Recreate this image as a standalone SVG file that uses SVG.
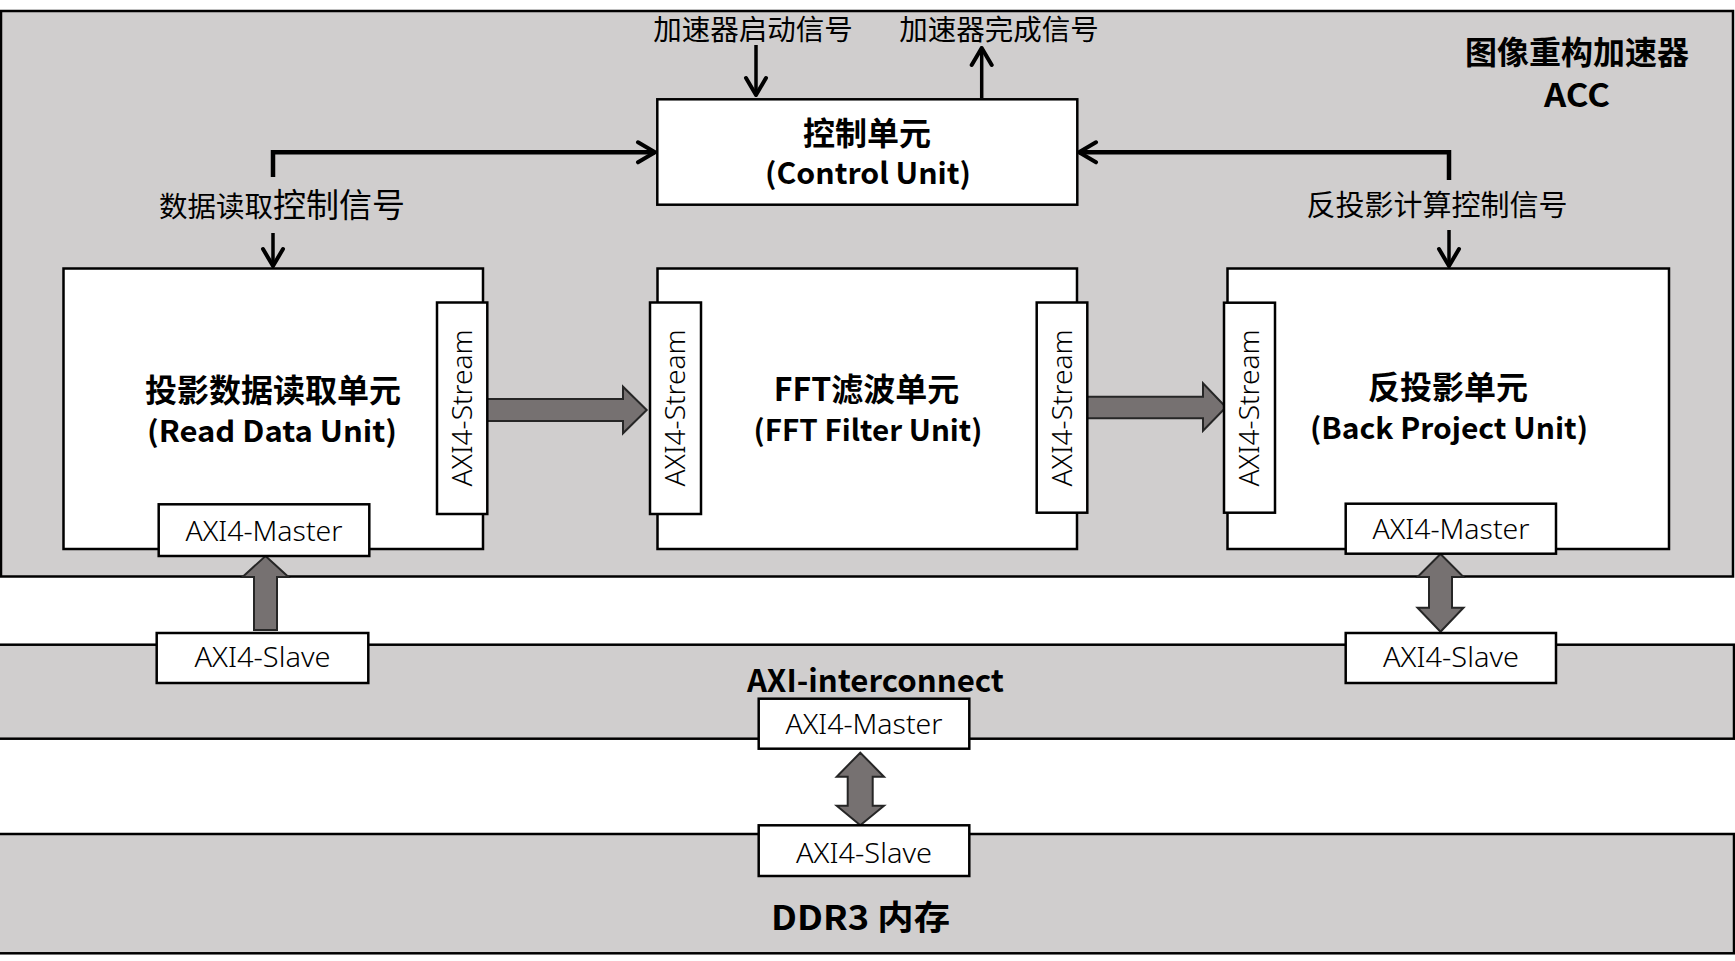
<svg xmlns="http://www.w3.org/2000/svg" width="1735" height="961" viewBox="0 0 1735 961">
<defs>
<style>
.band{fill:#D0CECE;stroke:#000;stroke-width:2.5}
.box{fill:#fff;stroke:#000;stroke-width:2.5}
.port{fill:#fff;stroke:#000;stroke-width:2.5}
.blk{fill:#767171;stroke:#262626;stroke-width:2;stroke-linejoin:miter}
.sig{fill:none;stroke:#000;stroke-linejoin:miter}
.t{font-family:"Noto Sans","Noto Sans CJK SC",sans-serif;fill:#000;text-anchor:middle}
.b{font-weight:bold}
.lt{font-weight:300}
.cjk{font-family:"Noto Sans CJK SC","Noto Sans",sans-serif}
</style>
<marker id="ah" markerUnits="userSpaceOnUse" viewBox="0 0 22 26" refX="20" refY="13" markerWidth="22" markerHeight="26" orient="auto">
<path d="M3,3 L20,13 L3,23" fill="none" stroke="#000" stroke-width="4" stroke-linecap="round" stroke-linejoin="round"/>
</marker>
</defs>
<rect width="1735" height="961" fill="#fff"/>

<g id="acc">
<rect class="band" x="1" y="11" width="1732" height="565.5"/>
<text class="t b cjk" x="1577" y="64" font-size="32">图像重构加速器</text>
<text class="t b cjk" x="1577" y="107" font-size="32" textLength="66" lengthAdjust="spacingAndGlyphs">ACC</text>
</g>

<g id="interconnect">
<rect class="band" x="-2" y="644.7" width="1736" height="94"/>
<text class="t b cjk" x="875.5" y="692" font-size="31" textLength="257" lengthAdjust="spacingAndGlyphs">AXI-interconnect</text>
</g>

<g id="ddr3">
<rect class="band" x="-2" y="834" width="1736" height="119.3"/>
<text class="t b cjk" x="860.5" y="930" font-size="34" textLength="179" lengthAdjust="spacingAndGlyphs">DDR3 内存</text>
</g>

<g id="connectors">
<path class="sig" stroke-width="3.5" d="M756,45 L756,95" marker-end="url(#ah)"/>
<path class="sig" stroke-width="3.5" d="M981.7,98 L981.7,48" marker-end="url(#ah)"/>
<path class="sig" stroke-width="4.5" d="M273,177 L273,152.3 L655,152.3" marker-end="url(#ah)"/>
<path class="sig" stroke-width="4.5" d="M1449,180 L1449,152.3 L1079,152.3" marker-end="url(#ah)"/>
<path class="sig" stroke-width="3.5" d="M273,233 L273,266" marker-end="url(#ah)"/>
<path class="sig" stroke-width="3.5" d="M1449,230 L1449,266" marker-end="url(#ah)"/>
<polygon class="blk" points="487,399 623,399 623,386.7 646.7,410 623,433.3 623,421 487,421"/>
<polygon class="blk" points="1087,396.7 1203,396.7 1203,383.3 1226,407.3 1203,430.7 1203,418.3 1087,418.3"/>
<polygon class="blk" points="265.5,556 288.5,577 277,577 277,630 254,630 254,577 242.5,577"/>
<polygon class="blk" points="1440.5,554 1463.5,577 1452,577 1452,607.7 1463.5,607.7 1440.5,631.7 1417.5,607.7 1429,607.7 1429,577 1417.5,577"/>
<polygon class="blk" points="860.3,752.7 884,776.7 872.7,776.7 872.7,805.7 884,805.7 860.3,825.3 836.7,805.7 847.7,805.7 847.7,776.7 836.7,776.7"/>
</g>

<g id="signal-labels">
<text class="t cjk" x="753" y="40" font-size="28.5">加速器启动信号</text>
<text class="t cjk" x="999" y="40" font-size="28.5">加速器完成信号</text>
<text class="t cjk" x="282" y="217" font-size="31"><tspan font-size="28.5">数据读取</tspan><tspan font-size="33">控制信号</tspan></text>
<text class="t cjk" x="1437" y="216" font-size="29">反投影计算控制信号</text>
</g>

<g id="control-unit">
<rect class="box" x="657.3" y="99.3" width="420" height="105.4"/>
<text class="t b cjk" x="867" y="145" font-size="32">控制单元</text>
<text class="t b cjk" x="868" y="184" font-size="29" textLength="206" lengthAdjust="spacingAndGlyphs">(Control Unit)</text>
</g>

<g id="read-data-unit">
<rect class="box" x="63.5" y="268.5" width="419.5" height="280.5"/>
<text class="t b cjk" x="273" y="402" font-size="32">投影数据读取单元</text>
<text class="t b cjk" x="272" y="442" font-size="29" textLength="250" lengthAdjust="spacingAndGlyphs">(Read Data Unit)</text>
</g>

<g id="fft-filter-unit">
<rect class="box" x="657.5" y="268.5" width="419.5" height="280.5"/>
<text class="t b cjk" x="866.5" y="401" font-size="32">FFT滤波单元</text>
<text class="t b cjk" x="868" y="441" font-size="29" textLength="229" lengthAdjust="spacingAndGlyphs">(FFT Filter Unit)</text>
</g>

<g id="back-project-unit">
<rect class="box" x="1227.5" y="268.5" width="441.5" height="280.5"/>
<text class="t b cjk" x="1448" y="399" font-size="32">反投影单元</text>
<text class="t b cjk" x="1449" y="439" font-size="29" textLength="278" lengthAdjust="spacingAndGlyphs">(Back Project Unit)</text>
</g>

<g id="stream-read-out">
<rect class="port" x="437" y="302.5" width="50.3" height="211.5"/>
<text class="t lt" transform="translate(462,408) rotate(-90)" y="9.7" font-size="27" textLength="157" lengthAdjust="spacingAndGlyphs">AXI4-Stream</text>
</g>
<g id="stream-fft-in">
<rect class="port" x="650" y="302.5" width="51" height="211.5"/>
<text class="t lt" transform="translate(675.5,408) rotate(-90)" y="9.7" font-size="27" textLength="157" lengthAdjust="spacingAndGlyphs">AXI4-Stream</text>
</g>
<g id="stream-fft-out">
<rect class="port" x="1036.7" y="302.5" width="50.6" height="210.2"/>
<text class="t lt" transform="translate(1062,408) rotate(-90)" y="9.7" font-size="27" textLength="157" lengthAdjust="spacingAndGlyphs">AXI4-Stream</text>
</g>
<g id="stream-bp-in">
<rect class="port" x="1224" y="302.7" width="51" height="210"/>
<text class="t lt" transform="translate(1249.5,408) rotate(-90)" y="9.7" font-size="27" textLength="157" lengthAdjust="spacingAndGlyphs">AXI4-Stream</text>
</g>

<g id="master-read">
<rect class="port" x="158.7" y="504.3" width="210.6" height="51.7"/>
<text class="t lt" x="264" y="541" font-size="27" textLength="157" lengthAdjust="spacingAndGlyphs">AXI4-Master</text>
</g>
<g id="master-bp">
<rect class="port" x="1345.7" y="503.7" width="210.3" height="50"/>
<text class="t lt" x="1451" y="539.3" font-size="27" textLength="157" lengthAdjust="spacingAndGlyphs">AXI4-Master</text>
</g>
<g id="slave-ic-left">
<rect class="port" x="156.7" y="633" width="211.6" height="50"/>
<text class="t lt" x="262.5" y="667" font-size="27" textLength="136" lengthAdjust="spacingAndGlyphs">AXI4-Slave</text>
</g>
<g id="slave-ic-right">
<rect class="port" x="1345.7" y="633" width="210.3" height="50"/>
<text class="t lt" x="1451" y="667.3" font-size="27" textLength="136" lengthAdjust="spacingAndGlyphs">AXI4-Slave</text>
</g>
<g id="master-ic">
<rect class="port" x="758.7" y="698.7" width="210.6" height="50"/>
<text class="t lt" x="864" y="734.3" font-size="27" textLength="157" lengthAdjust="spacingAndGlyphs">AXI4-Master</text>
</g>
<g id="slave-ddr">
<rect class="port" x="758.7" y="825.3" width="210.6" height="50.7"/>
<text class="t lt" x="864" y="862.7" font-size="27" textLength="136" lengthAdjust="spacingAndGlyphs">AXI4-Slave</text>
</g>
</svg>
